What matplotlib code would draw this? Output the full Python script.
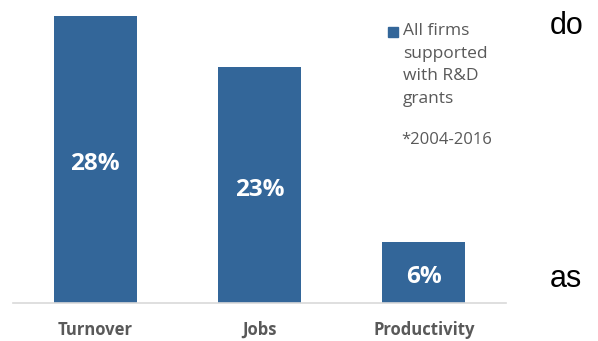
import matplotlib
matplotlib.use("Agg")
import matplotlib.pyplot as plt
from matplotlib.patches import Rectangle

categories = ["Turnover", "Jobs", "Productivity"]
values = [28, 23, 6]
value_labels = ["28%", "23%", "6%"]
legend_label = "All firms\nsupported\nwith R&D\ngrants"
note = "*2004-2016"

bar_color = "#336699"
text_gray = "#595959"
font = ["Open Sans", "DejaVu Sans"]

fig = plt.figure(figsize=(5.98, 3.41), dpi=100)
ax = fig.add_axes([13 / 598, 1 - 303 / 341, (506 - 13) / 598, (303 - 16) / 341])

x = list(range(len(categories)))
bars = ax.bar(x, values, width=0.505, color=bar_color, zorder=2)
for rect, lab in zip(bars, value_labels):
    ax.annotate(lab, (rect.get_x() + rect.get_width() / 2, rect.get_height() / 2),
                xytext=(0, -3.5), textcoords="offset points",
                ha="center", va="center", color="white", fontsize=17.5,
                fontweight="bold", family=font)

ax.set_xlim(-0.5, 2.5)
ax.set_ylim(0, 28)
ax.set_yticks([])
ax.set_xticks(x)
ax.set_xticklabels(categories, fontsize=12, fontweight="bold", color=text_gray,
                   family=font)
ax.tick_params(axis="x", length=0, pad=13)
for side in ("top", "right", "left"):
    ax.spines[side].set_visible(False)
ax.spines["bottom"].set_color("#d9d9d9")
ax.spines["bottom"].set_linewidth(1.2)

# legend swatch and text
fig.patches.append(Rectangle((388 / 598, 1 - 37 / 341), 10 / 598, 10 / 341,
                             transform=fig.transFigure, color=bar_color))
fig.text(403 / 598, 1 - 23 / 341, legend_label, ha="left", va="top",
         fontsize=12.5, color=text_gray, family=font, linespacing=1.56)
fig.text(401 / 598, 1 - 140 / 341, note, ha="left", va="center",
         fontsize=12, color=text_gray, family=font)

# words from surrounding slide text
fig.text(550 / 598, 1 - 26 / 341, "do", ha="left", va="center",
         fontsize=22, color="black", family=["Liberation Sans", "DejaVu Sans"])
fig.text(550 / 598, 1 - 279 / 341, "as", ha="left", va="center",
         fontsize=22, color="black", family=["Liberation Sans", "DejaVu Sans"])

fig.savefig("out.png", dpi=100)
